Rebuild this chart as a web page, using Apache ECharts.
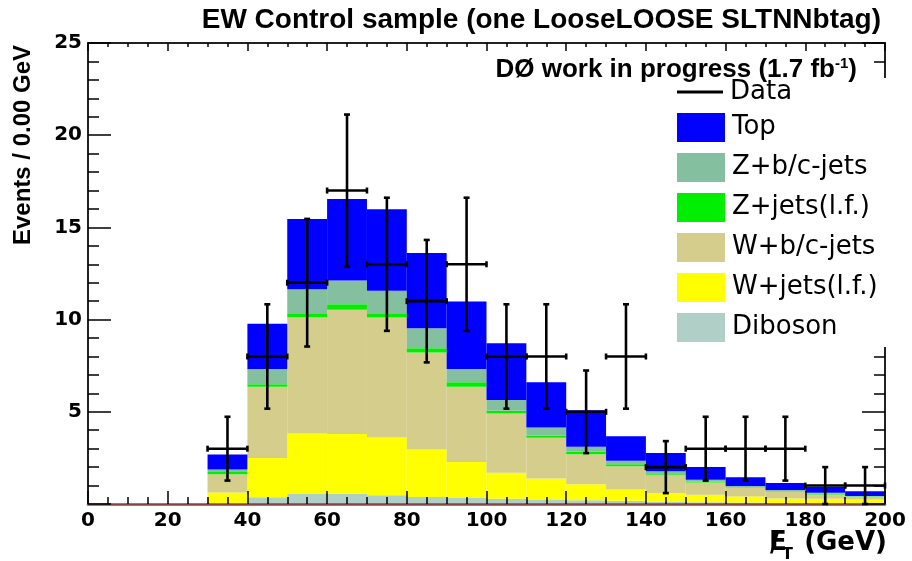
<!DOCTYPE html>
<html>
<head>
<meta charset="utf-8">
<script src="https://cdn.jsdelivr.net/npm/echarts@6/dist/echarts.min.js"></script>
<style>
  html, body { margin: 0; padding: 0; background: #ffffff; }
  #chart { width: 912px; height: 561px; }
</style>
</head>
<body>
<div id="chart"></div>
<script>
// Missing-ET histogram: 10 GeV bins from 0 to 200 GeV
const binLow = [0, 10, 20, 30, 40, 50, 60, 70, 80, 90, 100, 110, 120, 130, 140, 150, 160, 170, 180, 190];
const binWidth = 10;

// Expected events per bin, one array per background process
const diboson = [0, 0, 0, 0.02, 0.36, 0.54, 0.56, 0.47, 0.38, 0.33, 0.28, 0.24, 0.20, 0.17, 0.14, 0.10, 0.08, 0.06, 0.05, 0.04];
const wJetsLF = [0, 0, 0, 0.60, 2.14, 3.28, 3.23, 3.13, 2.58, 1.95, 1.41, 1.14, 0.87, 0.61, 0.46, 0.40, 0.32, 0.24, 0.23, 0.20];
const wBCJets = [0, 0, 0, 0.99, 3.86, 6.31, 6.74, 6.51, 5.25, 4.08, 3.22, 2.21, 1.63, 1.27, 0.96, 0.66, 0.48, 0.38, 0.24, 0.14];
const zJetsLF = [0, 0, 0, 0.13, 0.14, 0.22, 0.30, 0.24, 0.23, 0.24, 0.15, 0.13, 0.13, 0.11, 0.06, 0.04, 0.03, 0.03, 0.04, 0.03];
const zBCJets = [0, 0, 0, 0.13, 0.82, 1.30, 1.29, 1.21, 1.09, 0.72, 0.58, 0.43, 0.27, 0.18, 0.16, 0.12, 0.07, 0.05, 0.05, 0.03];
const topPair = [0, 0, 0, 0.81, 2.45, 3.81, 4.42, 4.42, 4.08, 3.66, 3.08, 2.45, 1.99, 1.34, 0.98, 0.69, 0.47, 0.38, 0.32, 0.25];

// Observed events and their uncertainties
const dataCounts = [0, 0, 0, 3, 8, 12, 17, 13, 11, 13, 8, 8, 5, 8, 2, 3, 3, 3, 1, 1];
const dataErrors = [0, 0, 0, 1.73, 2.83, 3.46, 4.12, 3.61, 3.32, 3.61, 2.83, 2.83, 2.24, 2.83, 1.41, 1.73, 1.73, 1.73, 1.00, 1.00];

// Stacking order, bottom to top
const processes = [
  { name: 'Diboson',      values: diboson, color: '#b0cfc6' },
  { name: 'W+jets(l.f.)', values: wJetsLF, color: '#ffff00' },
  { name: 'W+b/c-jets',   values: wBCJets, color: '#d4cd8b' },
  { name: 'Z+jets(l.f.)', values: zJetsLF, color: '#00ee00' },
  { name: 'Z+b/c-jets',   values: zBCJets, color: '#84bf9f' },
  { name: 'Top',          values: topPair, color: '#0000ff' }
];

const labelFont = 'DejaVu Sans';
const titleFont = 'Liberation Sans';

function renderBin(params, api) {
  const lo = api.coord([api.value(0), api.value(2)]);
  const hi = api.coord([api.value(1), api.value(3)]);
  return {
    type: 'rect',
    shape: { x: lo[0], y: hi[1], width: hi[0] - lo[0], height: lo[1] - hi[1] },
    style: { fill: api.visual('color') }
  };
}

function renderPoint(params, api) {
  const x0 = api.value(0), x1 = api.value(1), n = api.value(2), e = api.value(3);
  const xc = (x0 + x1) / 2;
  const L = api.coord([x0, n]), R = api.coord([x1, n]);
  const T = api.coord([xc, n + e]), B = api.coord([xc, n - e]);
  const c = 3;
  const st = { stroke: '#000', lineWidth: 2.6 };
  const seg = (a, b, d, f) => ({ type: 'line', shape: { x1: a, y1: b, x2: d, y2: f }, style: st });
  return {
    type: 'group',
    children: [
      seg(L[0], L[1], R[0], R[1]),
      seg(T[0], T[1], B[0], B[1]),
      seg(L[0], L[1] - c, L[0], L[1] + c),
      seg(R[0], R[1] - c, R[0], R[1] + c),
      seg(T[0] - c, T[1], T[0] + c, T[1]),
      seg(B[0] - c, B[1], B[0] + c, B[1])
    ]
  };
}

// cumulative stack
const base = binLow.map(() => 0);
const stackSeries = processes.map(p => {
  const rows = binLow.map((lo, i) => {
    const b = base[i];
    base[i] += p.values[i];
    return [lo, lo + binWidth, b, base[i]];
  });
  return {
    name: p.name,
    type: 'custom',
    renderItem: renderBin,
    itemStyle: { color: p.color },
    encode: { x: [0, 1], y: [2, 3] },
    data: rows,
    z: 2,
    silent: true
  };
});

const pointRows = [];
binLow.forEach((lo, i) => {
  if (dataCounts[i] > 0) pointRows.push([lo, lo + binWidth, dataCounts[i], dataErrors[i]]);
});

const dataSeries = {
  name: 'Data',
  type: 'custom',
  renderItem: renderPoint,
  itemStyle: { color: '#000' },
  encode: { x: [0, 1], y: [2] },
  data: pointRows,
  z: 10,
  silent: true
};

const frameLine = { color: '#222', width: 2 };
const tickStyle = { color: '#000', width: 1.5 };

const chart = echarts.init(document.getElementById('chart'), null, { renderer: 'canvas' });
chart.setOption({
  animation: false,
  backgroundColor: '#ffffff',
  title: [
    {
      text: 'EW Control sample (one LooseLOOSE SLTNNbtag)',
      right: 26, top: 1, z: 25,
      textStyle: { fontFamily: titleFont, fontWeight: 'bold', fontSize: 28, color: '#000' }
    },
    {
      text: '{a|DØ work in progress (1.7 fb}{s|-1}{a|)}',
      right: 50, top: 51, z: 25,
      textStyle: {
        rich: {
          a: { fontFamily: titleFont, fontWeight: 'bold', fontSize: 26, color: '#000' },
          s: { fontFamily: titleFont, fontWeight: 'bold', fontSize: 15, color: '#000', padding: [0, 0, 12, 0] }
        }
      }
    }
  ],
  grid: { left: 88, right: 27, top: 43, bottom: 57 },
  xAxis: [
    {
      type: 'value', min: 0, max: 200, interval: 20, position: 'bottom', z: 5,
      axisLine: { show: true, onZero: false, lineStyle: { color: '#8a4646', width: 2.5 } },
      axisTick: { show: true, inside: true, length: 13, lineStyle: tickStyle },
      minorTick: { show: true, splitNumber: 4, length: 7, lineStyle: tickStyle },
      axisLabel: { margin: 7, fontFamily: labelFont, fontWeight: 'bold', fontSize: 20, color: '#000' },
      splitLine: { show: false }, minorSplitLine: { show: false }
    },
    {
      type: 'value', min: 0, max: 200, interval: 20, position: 'top', z: 5,
      axisLine: { show: true, onZero: false, lineStyle: frameLine },
      axisTick: { show: true, inside: true, length: 8, lineStyle: tickStyle },
      minorTick: { show: true, splitNumber: 4, length: 4, lineStyle: tickStyle },
      axisLabel: { show: false },
      splitLine: { show: false }, minorSplitLine: { show: false }
    }
  ],
  yAxis: [
    {
      type: 'value', min: 0, max: 25, interval: 5, position: 'left', z: 5,
      axisLine: { show: true, onZero: false, lineStyle: frameLine },
      axisTick: { show: true, inside: true, length: 23, lineStyle: tickStyle },
      minorTick: { show: true, splitNumber: 5, length: 11, lineStyle: tickStyle },
      axisLabel: { margin: 6, showMinLabel: false, fontFamily: labelFont, fontWeight: 'bold', fontSize: 20, color: '#000' },
      splitLine: { show: false }, minorSplitLine: { show: false }
    },
    {
      type: 'value', min: 0, max: 25, interval: 5, position: 'right', z: 5,
      axisLine: { show: true, onZero: false, lineStyle: frameLine },
      axisTick: { show: true, inside: true, length: 23, lineStyle: tickStyle },
      minorTick: { show: true, splitNumber: 5, length: 11, lineStyle: tickStyle },
      axisLabel: { show: false },
      splitLine: { show: false }, minorSplitLine: { show: false }
    }
  ],
  legend: [
    {
      data: ['Data'], selectedMode: false, orient: 'vertical',
      left: 672, top: 74, itemWidth: 46, itemHeight: 3, icon: 'rect', z: 20,
      textStyle: { fontFamily: labelFont, fontSize: 26, color: '#000', padding: [0, 0, 0, 2] }
    },
    {
      data: ['Top', 'Z+b/c-jets', 'Z+jets(l.f.)', 'W+b/c-jets', 'W+jets(l.f.)', 'Diboson'],
      selectedMode: false, orient: 'vertical',
      left: 672, top: 108, itemWidth: 48, itemHeight: 29, itemGap: 11, icon: 'rect', z: 20,
      textStyle: { fontFamily: labelFont, fontSize: 26, color: '#000', padding: [0, 0, 0, 2] }
    }
  ],
  graphic: [
    { type: 'rect', z: 15, shape: { x: 668, y: 78, width: 224, height: 269 }, style: { fill: '#ffffff' } },
    {
      type: 'text', x: 23, y: 145, rotation: Math.PI / 2, z: 20,
      style: { text: 'Events / 0.00 GeV', font: 'bold 24px "Liberation Sans"', fill: '#000', textAlign: 'center', textVerticalAlign: 'middle' }
    },
    { type: 'text', z: 20, style: { x: 769, y: 556, text: 'E', font: 'bold 26px "DejaVu Sans"', fill: '#000', textAlign: 'left', textVerticalAlign: 'bottom' } },
    { type: 'text', z: 20, style: { x: 770, y: 557, text: '/', font: 'bold 24px "DejaVu Sans"', fill: '#000', textAlign: 'left', textVerticalAlign: 'bottom' } },
    { type: 'text', z: 20, style: { x: 782, y: 563, text: 'T', font: 'bold 16px "DejaVu Sans"', fill: '#000', textAlign: 'left', textVerticalAlign: 'bottom' } },
    { type: 'text', z: 20, style: { x: 887, y: 556, text: '(GeV)', font: 'bold 26px "DejaVu Sans"', fill: '#000', textAlign: 'right', textVerticalAlign: 'bottom' } }
  ],
  series: stackSeries.concat([dataSeries])
});
</script>
</body>
</html>
